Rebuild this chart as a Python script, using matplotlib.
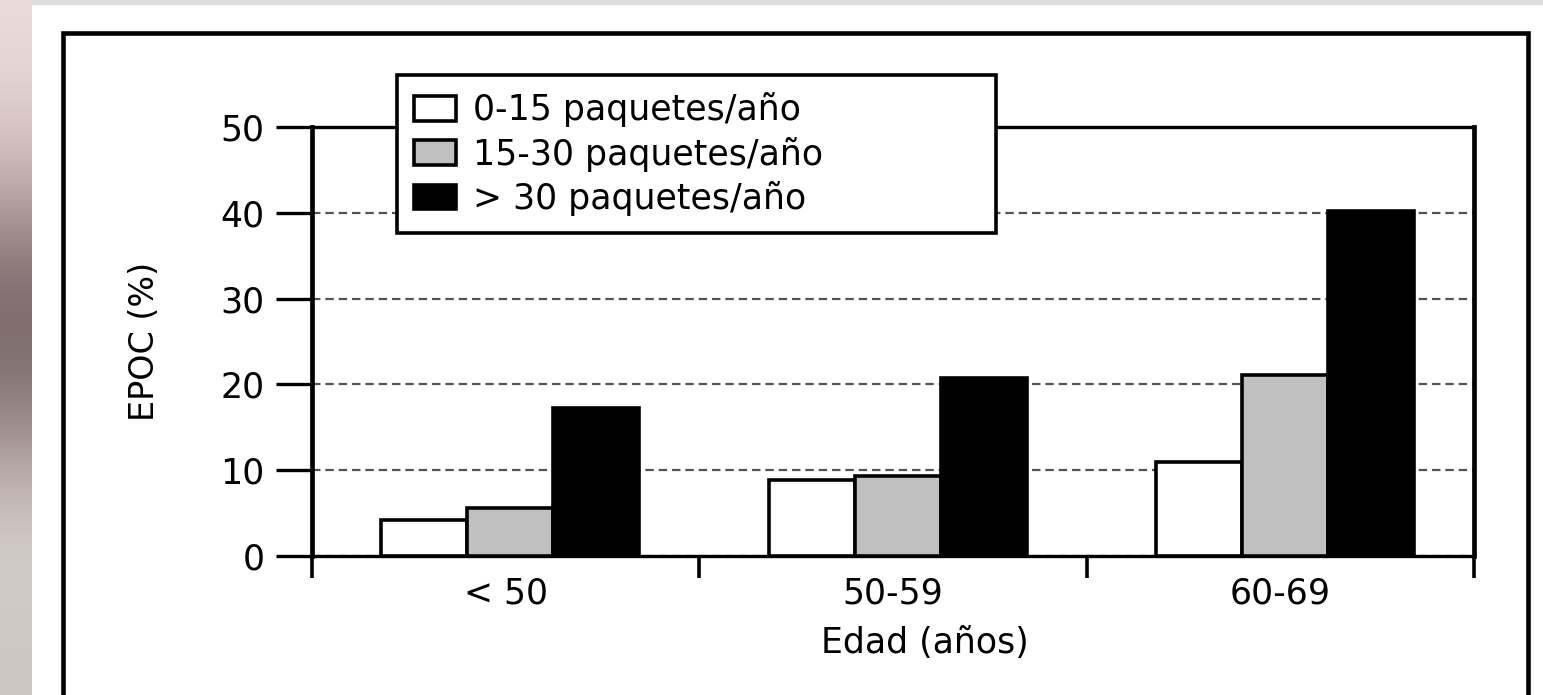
import numpy as np
import matplotlib.pyplot as plt
from matplotlib.patches import Rectangle

plt.rcParams['font.family'] = ['DejaVu Sans']

# --- data ---
grupos = ["< 50", "50-59", "60-69"]
series = ["0-15 paquetes/año", "15-30 paquetes/año", "> 30 paquetes/año"]
valores = [
    [4.2, 8.8, 10.9],    # 0-15
    [5.6, 9.3, 21.1],    # 15-30
    [17.3, 20.7, 40.2],  # > 30
]
colores = ["white", "#c0c0c0", "black"]
yticks = [0, 10, 20, 30, 40, 50]

W, H = 1543, 695
fig = plt.figure(figsize=(W / 100, H / 100), dpi=100)

# slide background: photo edge on the left, white panel with a frame
bg = fig.add_axes([0, 0, 1, 1])
bg.set_axis_off()
col = np.array([[0.92, 0.86, 0.86], [0.80, 0.72, 0.72], [0.45, 0.38, 0.39],
                [0.55, 0.48, 0.48], [0.85, 0.82, 0.80], [0.80, 0.78, 0.76]])
grad = np.repeat(col[:, None, :], 2, axis=1)
bg.imshow(grad, extent=[0, 32, 0, H], aspect='auto', interpolation='bicubic')
bg.add_patch(Rectangle((32, H - 4), W, 4, color="#dddddd"))
bg.add_patch(Rectangle((63, -10), 1465, H - 33 + 10, fill=False, lw=3.3, ec="black"))
bg.set_xlim(0, W)
bg.set_ylim(0, H)

ax = fig.add_axes([312 / W, (H - 556) / H, 1162 / W, 429 / H])
x = np.arange(len(grupos))
bw = 0.222
for i, (vals, c) in enumerate(zip(valores, colores)):
    ax.bar(x + (i - 1) * bw + 0.012, vals, bw, color=c, edgecolor="black",
           linewidth=2.6, label=series[i], zorder=3)

ax.set_xlim(-0.5, 2.5)
ax.set_ylim(0, 50)
ax.set_yticks(yticks)
ax.yaxis.grid(True, linestyle=(0, (3.8, 2.2)), color="#555555", linewidth=1.6, zorder=0)
ax.set_xticks([-0.5, 0.5, 1.5, 2.5])
ax.set_xticklabels([])
ax.set_xticks(x, minor=True)
ax.set_xticklabels(grupos, minor=True, fontsize=25)
ax.tick_params(axis='x', which='major', direction='out', length=16, width=2.6)
ax.tick_params(axis='x', which='minor', length=0, pad=15)
ax.tick_params(axis='y', direction='out', length=26, width=2.4, labelsize=25, pad=8)
ax.spines['left'].set_linewidth(3.4)
ax.spines['right'].set_linewidth(3.4)
ax.spines['top'].set_linewidth(2.4)
ax.spines['bottom'].set_linewidth(2.4)
ax.set_ylabel("EPOC (%)", fontsize=24)
ax.yaxis.set_label_coords((161 - 312) / 1162, 0.5)
ax.set_xlabel("Edad (años)", fontsize=25)
ax.xaxis.set_label_coords((925 - 312) / 1162, -(643 - 556) / 429)
ax.xaxis.label.set_va('center')

# legend box: x 397..996, y 75..230 (pixels from top-left)
leg = ax.legend(loc="upper left", bbox_to_anchor=(397 / W, 1 - 230 / H, 599 / W, 155 / H),
                bbox_transform=fig.transFigure, mode="expand", fontsize=25,
                frameon=True, fancybox=False, handlelength=1.2, handleheight=0.72,
                handletextpad=0.5, borderaxespad=0, labelspacing=0.27,
                borderpad=0.5)
leg.get_frame().set_edgecolor("black")
leg.get_frame().set_linewidth(2.6)
leg.get_frame().set_alpha(1)
leg.set_zorder(5)
for p in leg.get_patches():
    p.set_linewidth(2.6)

plt.savefig("out.png", dpi=100)
